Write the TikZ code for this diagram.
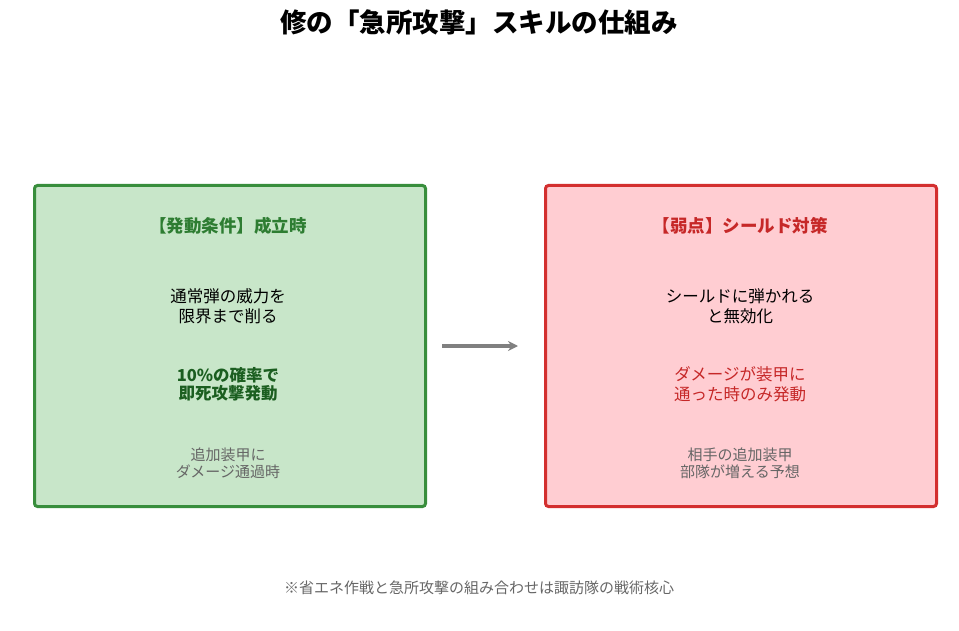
\documentclass[tikz,border=0pt]{standalone}
\usepackage{fontspec}
\setmainfont{Noto Sans CJK JP}
\usetikzlibrary{arrows.meta, positioning}
\definecolor{okfill}{HTML}{C8E6C9}
\definecolor{okline}{HTML}{388E3C}
\definecolor{okhead}{HTML}{2E7D32}
\definecolor{okbold}{HTML}{1B5E20}
\definecolor{ngfill}{HTML}{FFCDD2}
\definecolor{ngline}{HTML}{D32F2F}
\definecolor{nghead}{HTML}{C62828}
\definecolor{note}{HTML}{666666}
\begin{document}
\begin{tikzpicture}[
    x=1pt, y=-1pt,
    panel/.style={rectangle, draw, line width=3pt, rounded corners=3pt, minimum width=391pt, minimum height=321pt, anchor=north west},
    head/.style={font=\fontsize{17.5}{20}\selectfont\bfseries},
    body/.style={align=center, font=\fontsize{16.5}{20}\selectfont},
    small/.style={align=center, font=\fontsize{15}{17}\selectfont, text=note},
    arrow/.style={-{Stealth[length=10pt, width=10pt]}, line width=3.5pt, draw=gray}
]
    \useasboundingbox (0,0) rectangle (959,631);
    \node[font=\fontsize{26.5}{30}\selectfont\bfseries] (title) at (479,22) {修の「急所攻撃」スキルの仕組み};

    \node[panel, draw=okline, fill=okfill] (cond) at (33,184) {};
    \node[panel, draw=ngline, fill=ngfill] (weak) at (544,184) {};

    \node[head, text=okhead] (condhead) at (228,226) {【発動条件】成立時};
    \node[body] (condmain) at (228,306) {通常弾の威力を\\限界まで削る};
    \node[body, font=\fontsize{16.5}{18}\selectfont\bfseries, text=okbold] (condrate) at (228,384) {10\%の確率で\\即死攻撃発動};
    \node[small] (condnote) at (228,463) {追加装甲に\\ダメージ通過時};

    \node[head, text=nghead] (weakhead) at (740,226) {【弱点】シールド対策};
    \node[body] (weakmain) at (740,306) {シールドに弾かれる\\と無効化};
    \node[body, text=nghead] (weakcond) at (740,384) {ダメージが装甲に\\通った時のみ発動};
    \node[small] (weaknote) at (740,463) {相手の追加装甲\\部隊が増える予想};

    \draw[arrow] ([xshift=15pt]cond.east) -- ([xshift=-26pt]weak.west);

    \node[small] (foot) at (479,588) {※省エネ作戦と急所攻撃の組み合わせは諏訪隊の戦術核心};
\end{tikzpicture}
\end{document}
